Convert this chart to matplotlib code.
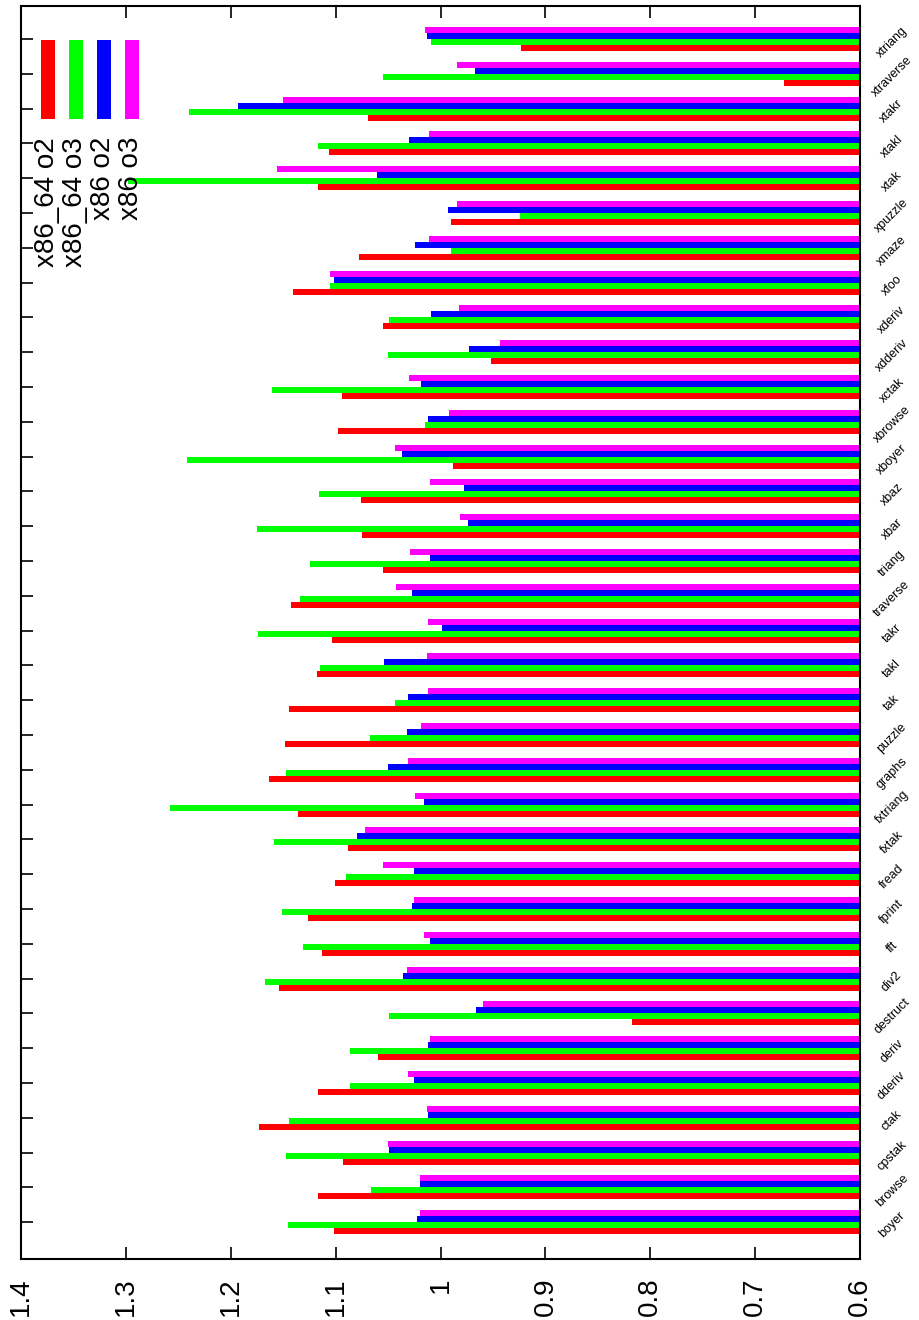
import numpy as np
import matplotlib
matplotlib.use('Agg')
import matplotlib.pyplot as plt
import matplotlib.transforms as mtransforms
from matplotlib.patches import Rectangle as rect

plt.rcParams['font.family'] = ['Liberation Sans', 'DejaVu Sans']

benchmarks = ['boyer', 'browse', 'cpstak', 'ctak', 'dderiv', 'deriv', 'destruct', 'div2', 'fft',
              'fprint', 'fread', 'fxtak', 'fxtriang', 'graphs', 'puzzle', 'tak', 'takl', 'takr',
              'traverse', 'triang', 'xbar', 'xbaz', 'xboyer', 'xbrowse', 'xctak', 'xdderiv',
              'xderiv', 'xfoo', 'xmaze', 'xpuzzle', 'xtak', 'xtakl', 'xtakr', 'xtraverse', 'xtriang']
series = ['x86_64 o2', 'x86_64 o3', 'x86 o2', 'x86 o3']
colors = ['#ff0000', '#00ff00', '#0000ff', '#ff00ff']

x86_64_o2 = [1.102, 1.117, 1.093, 1.173, 1.117, 1.060, 0.817, 1.154, 1.113, 1.126, 1.101, 1.088,
             1.136, 1.164, 1.148, 1.144, 1.118, 1.103, 1.143, 1.055, 1.075, 1.076, 0.988, 1.098,
             1.094, 0.952, 1.055, 1.141, 1.078, 0.990, 1.117, 1.106, 1.069, 0.672, 0.923]
x86_64_o3 = [1.145, 1.066, 1.147, 1.144, 1.086, 1.086, 1.049, 1.167, 1.131, 1.151, 1.090, 1.159,
             1.258, 1.147, 1.067, 1.043, 1.115, 1.174, 1.134, 1.124, 1.175, 1.116, 1.242, 1.015,
             1.161, 1.050, 1.049, 1.105, 0.990, 0.924, 1.298, 1.117, 1.240, 1.055, 1.009]
x86_o2 = [1.022, 1.020, 1.049, 1.012, 1.025, 1.012, 0.966, 1.036, 1.010, 1.027, 1.025, 1.080,
          1.016, 1.050, 1.032, 1.031, 1.054, 0.999, 1.027, 1.010, 0.974, 0.978, 1.037, 1.012,
          1.019, 0.973, 1.009, 1.102, 1.024, 0.993, 1.061, 1.030, 1.193, 0.967, 1.013]
x86_o3 = [1.020, 1.020, 1.050, 1.013, 1.031, 1.010, 0.959, 1.032, 1.016, 1.025, 1.055, 1.072,
          1.024, 1.031, 1.019, 1.012, 1.013, 1.012, 1.042, 1.029, 0.981, 1.010, 1.043, 0.992,
          1.030, 0.943, 0.982, 1.105, 1.011, 0.984, 1.156, 1.011, 1.150, 0.984, 1.015]

xticks = [0.6, 0.7, 0.8, 0.9, 1.0, 1.1, 1.2, 1.3, 1.4]
xticklabels = ['0.6', '0.7', '0.8', '0.9', '1', '1.1', '1.2', '1.3', '1.4']

W, H = 919, 1320
fig = plt.figure(figsize=(W / 100, H / 100), dpi=100)
# plot frame in pixels: x 21..860, y 6..1259 (from top)
ax = fig.add_axes([21 / W, (H - 1259) / H, (860 - 21) / W, (1259 - 6) / H])

pos = np.arange(len(benchmarks))
h = 0.1725
base = 0.6
for i, vals in enumerate([x86_64_o2, x86_64_o3, x86_o2, x86_o3]):
    v = np.array(vals)
    ax.barh(pos + (i - 1.5) * h, v - base, height=h, left=base, color=colors[i], linewidth=0, zorder=2)

ax.set_xlim(1.4, 0.6)
ax.set_ylim(-1.06, 34.95)
ax.set_xticks(xticks)
ax.set_xticklabels(xticklabels, rotation=90, fontsize=20)
ax.tick_params(axis='x', direction='in', length=8.6, width=1.2, top=True, bottom=True, pad=13.5)

ax.set_yticks(pos)
ax.set_yticklabels(benchmarks, rotation=45, fontsize=9, ha='center', va='center')
ax.tick_params(axis='y', direction='in', length=8.6, width=1.2, left=True, right=False,
               labelleft=False, labelright=True, pad=23)
off = mtransforms.ScaledTranslation(0, -3 / 100, fig.dpi_scale_trans)
for lab in ax.get_yticklabels():
    lab.set_transform(lab.get_transform() + off)

for s in ax.spines.values():
    s.set_linewidth(1.5)
    s.set_zorder(5)

# key (rotated, top-left)
key_x = [48, 76, 104, 132]
for i, name in enumerate(series):
    fig.add_artist(rect(((key_x[i] - 7) / W, (H - 119) / H), 14 / W, 79 / H,
                        transform=fig.transFigure, facecolor=colors[i], edgecolor='none', zorder=6))
    fig.text((key_x[i] - 0.5) / W, (H - 137) / H, name, rotation=90, ha='center', va='top',
             fontsize=20, zorder=7)

fig.savefig('out.png', dpi=100)
